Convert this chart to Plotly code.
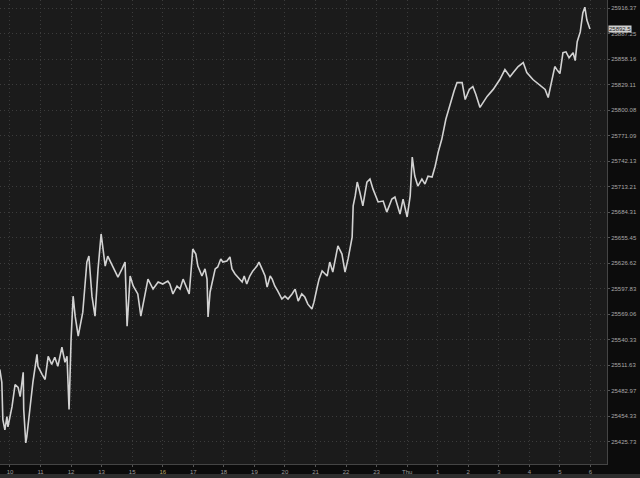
import plotly.graph_objs as go
import numpy as np

# minutes on the session axis, 0 = the "10" label (the 14 hour is skipped on the chart)
session_min = [-20, -16, -14, -10, -6, -4, 4, 10, 16, 20, 26, 27, 31, 33, 39, 45, 53, 55, 63, 69,
               75, 82, 88, 94, 102, 108, 112, 114, 116, 120, 124, 128, 134, 143, 151, 155, 161, 167, 173, 179,
               183, 187, 192, 202, 212, 220, 226, 230, 236, 242, 251, 257, 265, 271, 281, 291, 300, 310, 314, 320,
               328, 334, 340, 348, 352, 357, 359, 365, 369, 377, 383, 387, 389, 393, 399, 403, 408, 414, 418, 426,
               432, 436, 442, 448, 456, 460, 465, 471, 477, 485, 489, 495, 501, 505, 511, 515, 520, 526, 534, 540,
               546, 554, 560, 566, 573, 579, 585, 593, 597, 603, 607, 613, 623, 628, 634, 644, 652, 658, 664, 672,
               674, 678, 682, 687, 693, 701, 707, 713, 723, 733, 740, 750, 756, 766, 772, 780, 786, 790, 795, 801,
               809, 815, 821, 829, 835, 841, 848, 856, 864, 872, 878, 888, 894, 902, 909, 915, 923, 937, 949, 962,
               972, 982, 990, 998, 1008, 1015, 1027, 1035, 1041, 1051, 1057, 1064, 1070, 1074, 1080, 1086, 1092, 1098, 1106, 1110,
               1114, 1120, 1125, 1129, 1133, 1139]

price = [25507.0, 25492.5, 25450.5, 25439.25, 25454.0, 25442.5, 25465.25, 25490.0, 25486.75, 25476.5,
         25503.75, 25462.0, 25424.5, 25431.25, 25462.0, 25492.5, 25524.0, 25510.5, 25501.5, 25495.75,
         25521.75, 25512.75, 25520.75, 25510.5, 25532.0, 25515.0, 25521.75, 25476.5, 25462.0, 25541.0,
         25589.5, 25567.0, 25544.5, 25571.5, 25628.0, 25634.75, 25589.5, 25567.0, 25620.25, 25659.75,
         25642.75, 25623.5, 25634.75, 25623.5, 25611.0, 25620.25, 25628.0, 25555.75, 25612.25, 25601.0,
         25592.0, 25567.0, 25589.5, 25608.75, 25597.5, 25605.5, 25603.25, 25606.5, 25603.25, 25592.0,
         25601.0, 25597.5, 25608.75, 25597.5, 25592.0, 25628.0, 25642.75, 25637.0, 25623.5, 25612.25,
         25620.25, 25608.75, 25566.0, 25594.25, 25608.75, 25620.25, 25622.5, 25631.5, 25628.0, 25629.25,
         25633.75, 25620.25, 25614.5, 25611.0, 25605.5, 25612.25, 25603.25, 25612.25, 25618.0, 25623.5,
         25628.0, 25620.25, 25612.25, 25599.75, 25612.25, 25608.75, 25601.0, 25595.25, 25586.25, 25589.5,
         25586.25, 25592.0, 25597.5, 25584.0, 25592.0, 25588.5, 25580.5, 25575.0, 25582.75, 25598.75,
         25608.75, 25618.0, 25612.25, 25628.0, 25616.75, 25646.25, 25637.0, 25616.75, 25631.5, 25656.25,
         25691.5, 25702.75, 25718.5, 25707.25, 25691.5, 25718.5, 25722.0, 25710.5, 25696.0, 25697.0,
         25684.5, 25699.25, 25701.5, 25682.25, 25699.25, 25679.0, 25702.75, 25746.75, 25725.25, 25714.0,
         25722.0, 25716.25, 25725.25, 25724.25, 25736.5, 25752.5, 25767.0, 25789.75, 25806.75, 25821.5,
         25831.5, 25831.5, 25812.25, 25823.75, 25827.0, 25818.0, 25803.25, 25815.75, 25823.75, 25835.0,
         25846.25, 25838.25, 25844.0, 25849.75, 25854.25, 25843.0, 25835.0, 25831.5, 25828.25, 25823.75,
         25814.5, 25832.75, 25849.75, 25846.25, 25841.75, 25865.5, 25866.5, 25859.75, 25865.5, 25856.5,
         25878.0, 25889.25, 25910.75, 25917.5, 25902.75, 25892.5]

last_price = 25892.5

# price scale (log) ticks on the right
y_ticks = [25916.37, 25887.25, 25858.16, 25829.11, 25800.08, 25771.09, 25742.13, 25713.21, 25684.31,
           25655.45, 25626.62, 25597.83, 25569.06, 25540.33, 25511.63, 25482.97, 25454.33, 25425.73]
y_tick_text = ['%.2f' % v for v in y_ticks]

x_ticks = [i * 60 for i in range(20)]
x_tick_text = ['10', '11', '12', '13', '15', '<span style="color:#b8a468">16</span>', '17', '18', '19',
               '20', '21', '22', '23', 'Thu', '1', '2', '3', '4', '5', '6']

fig = go.Figure()
fig.add_trace(go.Scatter(x=session_min, y=price, mode='lines',
                         line=dict(color='#d2d2d2', width=1.6),
                         hoverinfo='skip', showlegend=False))

fig.update_layout(
    width=640, height=478,
    paper_bgcolor='#0c0c0c',
    plot_bgcolor='#1b1b1b',
    margin=dict(l=0, r=33, t=0, b=14),
    showlegend=False,
    font=dict(family='Liberation Sans', size=6, color='#a8a8a8'),
    xaxis=dict(
        range=[-19.6, 1172.5],
        tickvals=x_ticks, ticktext=x_tick_text,
        showgrid=True, gridcolor='#3c3c3c', griddash='1px,3px', gridwidth=1,
        ticks='outside', ticklen=2, tickcolor='#555555',
        showline=True, linecolor='#454545', linewidth=1,
        zeroline=False, automargin=False,
        tickfont=dict(size=6, color='#9c9c9c'),
    ),
    yaxis=dict(
        type='log', side='right',
        range=[4.40485, 4.41373],
        tickvals=y_ticks, ticktext=y_tick_text,
        showgrid=True, gridcolor='#3c3c3c', griddash='1px,3px', gridwidth=1,
        ticks='outside', ticklen=2, tickcolor='#555555',
        showline=True, linecolor='#454545', linewidth=1,
        zeroline=False, automargin=False,
        tickfont=dict(size=6, color='#a8a8a8'),
    ),
)

# last price tag
fig.add_annotation(xref='paper', x=1.0, xanchor='left', xshift=1,
                   yref='y', y=np.log10(last_price), yanchor='middle',
                   text='%.1f' % last_price, showarrow=False,
                   bgcolor='#cfcfcf', borderpad=0,
                   font=dict(size=6, color='#1a1a1a', family='Liberation Sans'))

# bottom toolbar strip
fig.add_shape(type='rect', xref='paper', yref='paper', x0=0, x1=1 + 33 / 607,
              y0=-14 / 464, y1=-10 / 464, fillcolor='#2e2e2e', line=dict(width=0), layer='above')

# no page margin so the chart sits at the window corner
fig.write_html("out.html", config={'displayModeBar': False},
               post_script="document.body.style.margin='0';")
